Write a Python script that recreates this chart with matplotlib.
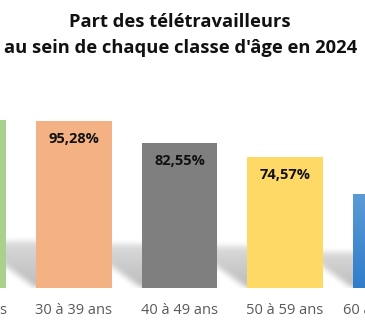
import numpy as np
import matplotlib
matplotlib.use("Agg")
import matplotlib.pyplot as plt
from matplotlib.colors import LinearSegmentedColormap

categories = ["20 à 29 ans", "30 à 39 ans", "40 à 49 ans", "50 à 59 ans", "60 ans et plus"]
values = [95.6, 95.28, 82.55, 74.57, 53.6]
colors = ["#A9D18E", "#F4B183", "#7F7F7F", "#FFD966", "#4A8DD3"]
title_lines = ["Part des télétravailleurs", "au sein de chaque classe d'âge en 2024"]

W, H, DPI = 365, 323, 100
fig = plt.figure(figsize=(W / DPI, H / DPI), dpi=DPI)
fig.patch.set_facecolor("white")

# axes placed so the view shows a cropped part of the chart
ax = fig.add_axes([0, 35 / H, 1, 175.3 / H])
x = np.arange(len(categories))
spacing_px = 105.5
xl0 = (0 - 74) / spacing_px + 1
xl1 = (W - 74) / spacing_px + 1
width = 0.72

bars = ax.bar(x, values, width=width, color=colors, zorder=3)
ax.set_xticks([])
ax.set_yticks([])
ax.set_xlim(xl0, xl1)
ax.set_ylim(0, 100)

# category labels (drawn even when the bar is partly out of view)
for xi, cat in zip(x, categories):
    ax.annotate(cat, xy=(xi, 0), xycoords=ax.get_xaxis_transform(),
                xytext=(0, -22), textcoords="offset pixels", ha="center", va="center",
                fontsize=10.5, family="Open Sans", color="#595959", annotation_clip=False)

# blue gradient on the last bar
blue_cmap = LinearSegmentedColormap.from_list("b", ["#2F7DCB", "#5B9BD5"])
lastbar = bars[-1]
grad = np.linspace(0, 1, 256).reshape(-1, 1)
im = ax.imshow(grad, cmap=blue_cmap, origin="lower", aspect="auto",
               extent=[x[-1] - width / 2, x[-1] + width / 2, 0, values[-1]], zorder=3.5)
im.set_clip_path(lastbar)

# perspective shadows
ax.set_xlim(xl0, xl1)
ax.set_ylim(0, 100)
t0 = ax.transData.transform((0, 0))
t1 = ax.transData.transform((1, 1))
pxx = t1[0] - t0[0]
pxy = t1[1] - t0[1]

ny = 70
nx = W + 40
xs_px = np.arange(nx) - 20 + 0.5
ys_px = np.arange(ny) + 0.5
XX, YY = np.meshgrid(xs_px, ys_px)
XD = xl0 + XX / pxx
shadow = np.zeros((ny, nx))
slant = 1.4
for xi, v in zip(x, values):
    hb = v * pxy
    hs = 22 + 0.15 * hb
    shift = slant * YY / pxx
    inside = (YY <= hs) & (XD >= xi - width / 2 - shift) & (XD <= xi + width / 2 - shift)
    fade = np.clip(1 - 0.45 * (YY / hs), 0, 1)
    shadow = np.maximum(shadow, inside * fade)


def box_blur(a, r):
    k = np.ones(2 * r + 1) / (2 * r + 1)
    a = np.apply_along_axis(lambda m: np.convolve(m, k, mode="same"), 0, a)
    a = np.apply_along_axis(lambda m: np.convolve(m, k, mode="same"), 1, a)
    return a


shadow = box_blur(box_blur(shadow, 3), 3)
rgba = np.zeros((ny, nx, 4))
rgba[..., 3] = 0.27 * shadow
ax.imshow(rgba, origin="lower", aspect="auto", interpolation="bilinear",
          extent=[xl0 - 20 / pxx, xl0 + (nx - 20) / pxx, 0, ny / pxy], zorder=1)
ax.set_xlim(xl0, xl1)
ax.set_ylim(0, 100)

# value labels inside bars
for xi, v in zip(x, values):
    lab = f"{v:.2f}".replace(".", ",") + "%"
    ax.text(xi, v - 18 / pxy, lab, ha="center", va="center", fontsize=10.5,
            fontweight="bold", family="Open Sans", color="#111111", zorder=5)

for s in ax.spines.values():
    s.set_visible(False)
ax.set_facecolor("none")

fig.text(180 / W, 1 - 22 / H, title_lines[0], ha="center", va="center",
         fontsize=13.2, fontweight="bold", family="Open Sans", color="#111111")
fig.text(181 / W, 1 - 48 / H, title_lines[1], ha="center", va="center",
         fontsize=13.2, fontweight="bold", family="Open Sans", color="#111111")

ax.set_xlim(xl0, xl1)
fig.savefig("out.png", dpi=DPI)
